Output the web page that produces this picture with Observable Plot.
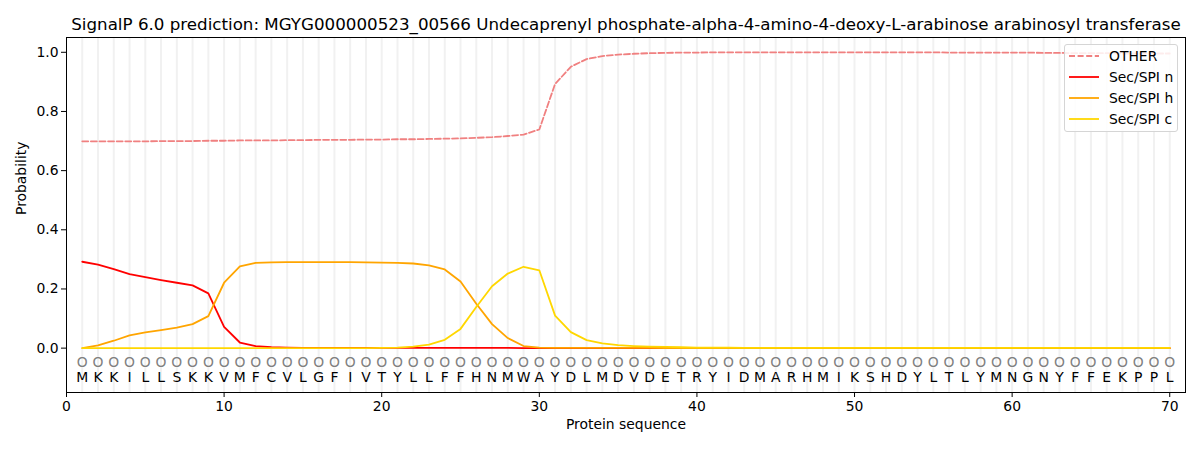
<!DOCTYPE html>
<html>
<head>
<meta charset="utf-8">
<script src="https://cdn.jsdelivr.net/npm/d3@7"></script>
<script src="https://cdn.jsdelivr.net/npm/@observablehq/plot@0.6"></script>
<style>
  body { margin: 0; background: #fff; }
  #wrap { position: relative; width: 1200px; height: 450px; font-family: "DejaVu Sans", sans-serif; }
  #legend { position: absolute; left: 1064px; top: 44px; width: 112px; height: 86px; border: 1px solid #d5d5d5; border-radius: 3px; background: rgba(255,255,255,0.85); font-size: 13.9px; color: #000; }
  .item { position: absolute; left: 0; height: 20px; display: flex; align-items: center; }
  .item svg { margin-left: 4px; }
  .item span { margin-left: 10px; }
</style>
</head>
<body>
<div id="wrap"></div>
<script>
const title = "SignalP 6.0 prediction: MGYG000000523_00566 Undecaprenyl phosphate-alpha-4-amino-4-deoxy-L-arabinose arabinosyl transferase";
const sequence = "MKKILLSKKVMFCVLGFIVTYLLFFHNMWAYDLMDVDETRYIDMARHMIKSHDYLTLYMNGNYFFEKPPL".split("");
const positions = sequence.map((_, i) => i + 1);
const xTicks = [0, 10, 20, 30, 40, 50, 60, 70];
const yTicks = [0, 0.2, 0.4, 0.6, 0.8, 1.0];
const seriesNames = ["OTHER", "Sec/SPI n", "Sec/SPI h", "Sec/SPI c"];
const seriesColors = ["#f08080", "#ff0000", "#ffa500", "#ffd700"];

const other = [
  0.699,0.699,0.699,0.699,0.699,0.700,0.700,0.700,0.701,0.701,
  0.702,0.702,0.702,0.703,0.703,0.704,0.704,0.704,0.705,0.705,
  0.706,0.706,0.707,0.708,0.709,0.711,0.713,0.717,0.722,0.739,
  0.893,0.951,0.977,0.987,0.992,0.995,0.997,0.998,0.999,0.999,
  1.000,1.000,1.000,1.000,1.000,1.000,1.000,1.000,1.000,1.000,
  1.000,1.000,1.000,1.000,1.000,0.999,0.999,0.999,0.999,0.999,
  0.999,0.998,0.998,0.997,0.997,0.997,0.996,0.996,0.996,0.996
];
const secN = [
  0.292,0.282,0.267,0.250,0.240,0.230,0.221,0.212,0.185,0.072,
  0.019,0.007,0.003,0.002,0.001,0.001,0.001,0.001,0.001,0.001,
  0.001,0.001,0.001,0.001,0.001,0.001,0.001,0.001,0.000,0.000,
  0.000,0.000,0.000,0.000,0.000,0.000,0.000,0.000,0.000,0.000,
  0.000,0.000,0.000,0.000,0.000,0.000,0.000,0.000,0.000,0.000,
  0.000,0.000,0.000,0.000,0.000,0.000,0.000,0.000,0.000,0.000,
  0.000,0.000,0.000,0.000,0.000,0.000,0.000,0.000,0.000,0.000
];
const secH = [
  0.000,0.009,0.025,0.043,0.053,0.061,0.069,0.081,0.108,0.221,
  0.276,0.288,0.290,0.291,0.291,0.291,0.291,0.291,0.290,0.289,
  0.288,0.286,0.280,0.266,0.225,0.150,0.081,0.034,0.007,0.002,
  0.001,0.001,0.001,0.001,0.001,0.001,0.001,0.000,0.000,0.000,
  0.000,0.000,0.000,0.000,0.000,0.000,0.000,0.000,0.000,0.000,
  0.000,0.000,0.000,0.000,0.000,0.000,0.000,0.000,0.000,0.000,
  0.000,0.000,0.000,0.000,0.000,0.000,0.000,0.000,0.000,0.000
];
const secC = [
  0.000,0.000,0.000,0.000,0.000,0.000,0.000,0.000,0.000,0.000,
  0.000,0.000,0.000,0.000,0.000,0.000,0.000,0.000,0.000,0.001,
  0.002,0.005,0.012,0.028,0.065,0.139,0.209,0.252,0.275,0.263,
  0.110,0.054,0.027,0.016,0.010,0.007,0.005,0.004,0.003,0.002,
  0.002,0.002,0.001,0.001,0.001,0.001,0.001,0.001,0.001,0.001,
  0.001,0.001,0.001,0.001,0.001,0.001,0.001,0.001,0.001,0.001,
  0.001,0.001,0.001,0.001,0.001,0.001,0.001,0.001,0.001,0.001
];

const allSeries = [other, secN, secH, secC];
const rows = (vals) => positions.map((p, i) => ({pos: p, v: vals[i]}));
const seqRows = positions.map((p, i) => ({pos: p, aa: sequence[i]}));

const lineMarks = allSeries.map((vals, k) => Plot.line(rows(vals), {
  x: "pos", y: "v", stroke: seriesColors[k], strokeWidth: 1.8,
  strokeDasharray: k === 0 ? "6,2.6" : null
}));

const chart = Plot.plot({
  width: 1200,
  height: 450,
  marginLeft: 66,
  marginRight: 15,
  marginTop: 37,
  marginBottom: 58,
  style: {fontFamily: "DejaVu Sans, sans-serif", fontSize: "13.9px", color: "#000", background: "#fff"},
  x: {domain: [0, 71]},
  y: {domain: [-0.15, 1.05]},
  marks: [
    Plot.ruleX(positions, {x: d => d, stroke: "#f1f1f1", strokeWidth: 2}),
    ...lineMarks,
    Plot.text(seqRows, {x: "pos", y: () => -0.05, text: () => "O", fill: "#808080", fontSize: 13.9}),
    Plot.text(seqRows, {x: "pos", y: () => -0.1, text: "aa", fill: "#000", fontSize: 13.9}),
    Plot.frame({stroke: "#000", strokeWidth: 1}),
    Plot.axisX({ticks: xTicks, tickSize: 5, tickPadding: 4, label: null, fontSize: 13.9}),
    Plot.axisY({ticks: yTicks, tickSize: 5, tickPadding: 3, tickFormat: d3.format(".1f"), label: null, fontSize: 13.9}),
    Plot.text([title], {frameAnchor: "top", dy: -8, lineAnchor: "bottom", text: d => d, fontSize: 16.7, fill: "#000"}),
    Plot.text(["Protein sequence"], {frameAnchor: "bottom", dy: 36, text: d => d, fontSize: 13.9, fill: "#000"}),
    Plot.text(["Probability"], {frameAnchor: "left", dx: -45, rotate: -90, text: d => d, fontSize: 13.9, fill: "#000"})
  ]
});

const wrap = document.getElementById("wrap");
wrap.appendChild(chart);

const legend = document.createElement("div");
legend.id = "legend";
const tops = [1, 22, 43, 64];
seriesNames.forEach((name, k) => {
  const item = document.createElement("div");
  item.className = "item";
  item.style.top = tops[k] + "px";
  const dash = k === 0 ? 'stroke-dasharray="6,2.6"' : "";
  item.innerHTML = `<svg width="30" height="10"><line x1="0" y1="5" x2="30" y2="5" stroke="${seriesColors[k]}" stroke-width="1.8" ${dash}/></svg><span>${name}</span>`;
  legend.appendChild(item);
});
wrap.appendChild(legend);
</script>
</body>
</html>
